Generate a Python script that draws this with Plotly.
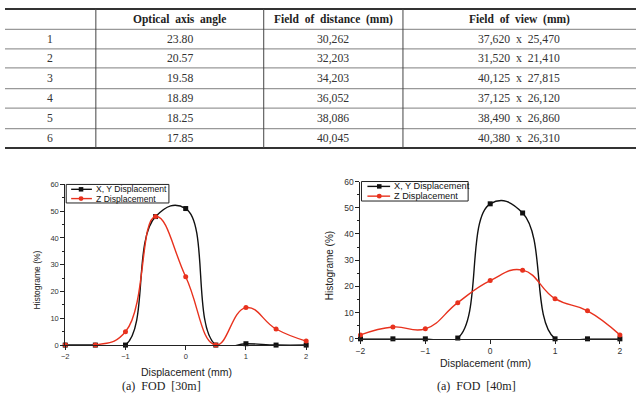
import plotly.graph_objects as go

W, H = 639, 404

# ---------------- data ----------------
NB = "\u00a0"
table_header = ["", "Optical  axis  angle", "Field  of  distance  (mm)", "Field  of  view  (mm)"]
row_ids = ["1", "2", "3", "4", "5", "6"]
axis_angle = ["23.80", "20.57", "19.58", "18.89", "18.25", "17.85"]
field_distance = ["30,262", "32,203", "34,203", "36,052", "38,086", "40,045"]
field_view = ["37,620  x  25,470", "31,520  x  21,410", "40,125  x  27,815",
              "37,125  x  26,120", "38,490  x  26,860", "40,380  x  26,310"]

disp = [-2, -1.5, -1, -0.5, 0, 0.5, 1, 1.5, 2]
xy_30 = [0, 0, 0, 48, 51, 0, 0.5, 0, 0]
z_30 = [0, 0, 5, 48, 25.5, 0, 14, 6, 1.5]
xy_40 = [0, 0, 0, 0.3, 51.5, 48, 0, 0, 0]
z_40 = [1.5, 4.5, 3.8, 13.8, 22.2, 26.2, 15.3, 10.7, 1.5]

legend_names = ["X, Y Displacement", "Z Displacement"]
captions = ["(a)  FOD  [30m]", "(a)  FOD  [40m]"]
x_title = "Displacement (mm)"
y_title = "Histograme (%)"

RED = "#e8321e"
BLACK = "#111111"


def px(x):
    return x / W


def py(y):
    return 1 - y / H


def sp(s):
    # keep double spaces visible in SVG text
    return s.replace("  ", NB + " ")


fig = go.Figure()

# ---------------- charts ----------------
for (xs, ys, col, sym, ax, name) in [
    (disp, xy_30, BLACK, "square", 1, legend_names[0]),
    (disp, z_30, RED, "circle", 1, legend_names[1]),
    (disp, xy_40, BLACK, "square", 2, legend_names[0]),
    (disp, z_40, RED, "circle", 2, legend_names[1]),
]:
    fig.add_trace(go.Scatter(
        x=xs, y=ys, mode="lines+markers", name=name, showlegend=False,
        line=dict(color=col, width=1.4, shape="spline", smoothing=1.3),
        marker=dict(color=col, symbol=sym, size=5),
        cliponaxis=False,
        xaxis="x" if ax == 1 else "x2", yaxis="y" if ax == 1 else "y2",
    ))

charts = [
    dict(x0=61, x1=305, y0=184, y1=348.7, tickfs=7.5),
    dict(x0=360, x1=622.7, y0=181, y1=342.3, tickfs=8.5),
]

axcommon = dict(showgrid=False, zeroline=False, showline=True, linecolor="#222",
                linewidth=1, ticks="outside", ticklen=4, tickcolor="#222",
                mirror=False)
for i, c in enumerate(charts):
    sfx = "" if i == 0 else "2"
    fig.update_layout(**{
        "xaxis" + sfx: dict(domain=[px(c["x0"]), px(c["x1"])], range=[-2, 2],
                            dtick=1, tick0=0, anchor="y" + sfx,
                            tickfont=dict(family="Liberation Sans", size=c["tickfs"], color="#333"),
                            **axcommon),
        "yaxis" + sfx: dict(domain=[py(c["y1"]), py(c["y0"])], range=[0, 60],
                            dtick=10, tick0=0, anchor="x" + sfx,
                            tickfont=dict(family="Liberation Sans", size=c["tickfs"], color="#333"),
                            minor=dict(dtick=5, ticks="outside", ticklen=2, tickcolor="#222"),
                            **axcommon),
    })

annotations = []
shapes = []


def ann(text, x, y, size, family="Liberation Sans", color="#222", xanchor="center", angle=0):
    annotations.append(dict(text=text, x=px(x), y=py(y), xref="paper", yref="paper",
                            xanchor=xanchor, yanchor="middle", textangle=angle,
                            showarrow=False, font=dict(family=family, size=size, color=color)))


# axis titles
ann(x_title, 184, 376, 10.5)
ann(x_title, 487, 367, 10.5)
ann(y_title, 32, 282, 8.5, angle=-90)
ann(y_title, 328, 267, 10, angle=-90)

# captions
for cx, cap in zip([158, 477], captions):
    ann(sp(cap), cx, 391, 12, family="Liberation Serif")

# manual legends
legends = [
    dict(bx0=62, bx1=166, by0=184, by1=203, ly=[189, 198.5], lx0=67, lx1=88, mx=77, tx=90, fs=8.6),
    dict(bx0=361, bx1=469, by0=181, by1=201, ly=[186, 196], lx0=367, lx1=390, mx=379, tx=392, fs=9.2),
]
for lg in legends:
    shapes.append(dict(type="rect", xref="paper", yref="paper",
                       x0=px(lg["bx0"]), x1=px(lg["bx1"]), y0=py(lg["by1"]), y1=py(lg["by0"]),
                       line=dict(color="#222", width=1), fillcolor="white", layer="above"))
    for k, (col, name) in enumerate([(BLACK, legend_names[0]), (RED, legend_names[1])]):
        yy = lg["ly"][k]
        shapes.append(dict(type="line", xref="paper", yref="paper",
                           x0=px(lg["lx0"]), x1=px(lg["lx1"]), y0=py(yy), y1=py(yy),
                           line=dict(color=col, width=1.4), layer="above"))
        if k == 0:
            shapes.append(dict(type="rect", xref="paper", yref="paper",
                               x0=px(lg["mx"] - 2.3), x1=px(lg["mx"] + 2.3),
                               y0=py(yy + 2.3), y1=py(yy - 2.3),
                               line=dict(width=0), fillcolor=col, layer="above"))
        else:
            shapes.append(dict(type="circle", xref="paper", yref="paper",
                               x0=px(lg["mx"] - 2.5), x1=px(lg["mx"] + 2.5),
                               y0=py(yy + 2.5), y1=py(yy - 2.5),
                               line=dict(width=0), fillcolor=col, layer="above"))
        ann(name, lg["tx"], yy, lg["fs"], color="#111", xanchor="left")

# ---------------- table ----------------
col_edges = [0, 92, 262, 403, 639]
row_edges = [4, 25, 45, 64.5, 85.7, 105.7, 126.7, 146.7]
col_centers = [(col_edges[i] + col_edges[i + 1]) / 2 for i in range(4)]
row_centers = [(row_edges[i] + row_edges[i + 1]) / 2 for i in range(7)]

for j, htxt in enumerate(table_header):
    if htxt:
        ann("<b>" + sp(htxt) + "</b>", col_centers[j], row_centers[0], 11.5,
            family="Liberation Serif", color="#222")
columns = [row_ids, axis_angle, field_distance, field_view]
for j, colvals in enumerate(columns):
    for i, v in enumerate(colvals):
        ann(sp(v), col_centers[j], row_centers[i + 1], 11.7, family="Liberation Serif", color="#333")

# horizontal lines
shapes.append(dict(type="line", xref="paper", yref="paper", x0=0, x1=1, y0=py(4), y1=py(4),
                   line=dict(color="#333", width=2)))
for yl in row_edges[1:-1]:
    shapes.append(dict(type="line", xref="paper", yref="paper", x0=0, x1=1, y0=py(yl), y1=py(yl),
                       line=dict(color="#999", width=1.2)))
shapes.append(dict(type="line", xref="paper", yref="paper", x0=0, x1=1, y0=py(146.7), y1=py(146.7),
                   line=dict(color="#333", width=2)))
for xl in col_edges[1:-1]:
    shapes.append(dict(type="line", xref="paper", yref="paper", x0=px(xl), x1=px(xl),
                       y0=py(4), y1=py(146.7), line=dict(color="#444", width=1)))

fig.update_layout(
    width=W, height=H, margin=dict(l=0, r=0, t=0, b=0),
    paper_bgcolor="white", plot_bgcolor="white",
    showlegend=False, annotations=annotations, shapes=shapes,
)

fig.write_html("out.html")
